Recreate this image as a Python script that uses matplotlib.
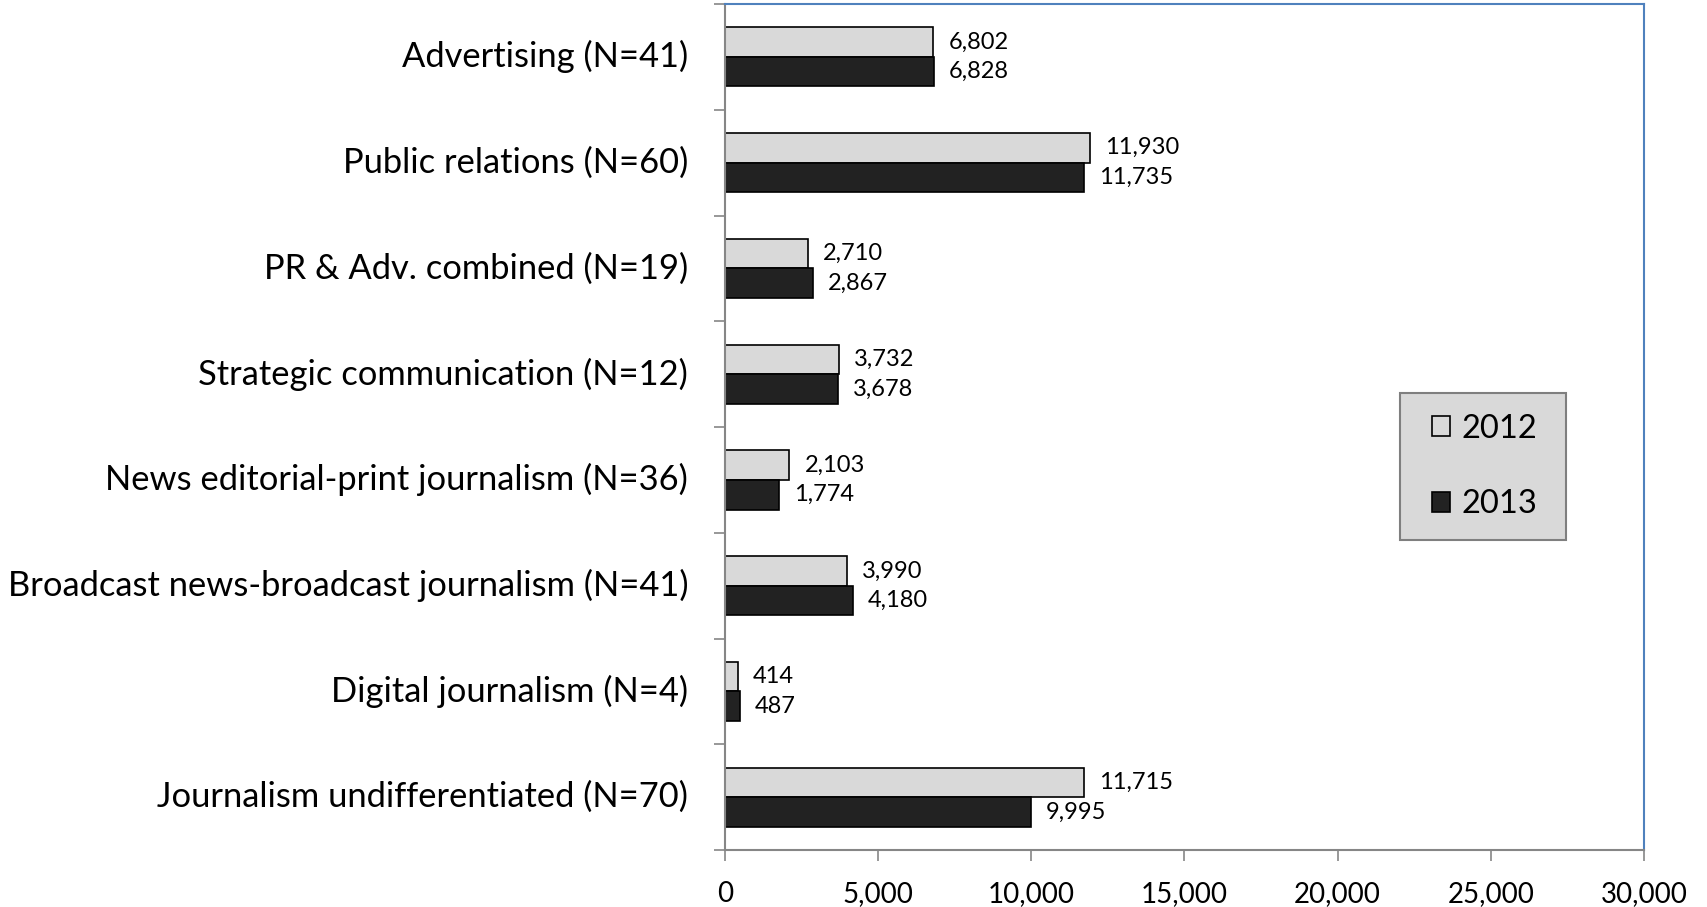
import matplotlib
matplotlib.use("Agg")
import matplotlib.pyplot as plt
from matplotlib.patches import Rectangle
import numpy as np

plt.rcParams['font.family'] = ['Lato', 'DejaVu Sans']

categories = [
    'Advertising (N=41)',
    'Public relations (N=60)',
    'PR & Adv. combined (N=19)',
    'Strategic communication (N=12)',
    'News editorial-print journalism (N=36)',
    'Broadcast news-broadcast journalism (N=41)',
    'Digital journalism (N=4)',
    'Journalism undifferentiated (N=70)',
]
values_2012 = [6802, 11930, 2710, 3732, 2103, 3990, 414, 11715]
values_2013 = [6828, 11735, 2867, 3678, 1774, 4180, 487, 9995]
series_names = ['2012', '2013']
x_ticks = [0, 5000, 10000, 15000, 20000, 25000, 30000]

fig = plt.figure(figsize=(17.07, 9.07), dpi=100)
ax = fig.add_axes([0.4247, 0.0628, 0.5384, 0.9328])

y = np.arange(len(categories))
h = 0.28
b1 = ax.barh(y - h / 2, values_2012, height=h, color='#d9d9d9',
             edgecolor='black', linewidth=1.2, label=series_names[0])
b2 = ax.barh(y + h / 2, values_2013, height=h, color='#222222',
             edgecolor='black', linewidth=1.2, label=series_names[1])

for bars, vals in ((b1, values_2012), (b2, values_2013)):
    for bar, v in zip(bars, vals):
        ax.annotate(f'{v:,}', (v, bar.get_y() + bar.get_height() / 2),
                    xytext=(15, 0), textcoords='offset pixels',
                    va='center', ha='left', fontsize=17)

ax.set_xlim(0, 30000)
ax.set_ylim(len(categories) - 0.5, -0.5)
ax.set_xticks(x_ticks)
ax.set_xticklabels([f'{t:,}' for t in x_ticks], fontsize=20)
ax.tick_params(axis='x', direction='out', length=8, width=1.2,
               color='#868686', pad=14)

# category names on the left, boundary ticks between groups
ax.set_yticks(np.arange(len(categories) + 1) - 0.5)
ax.set_yticklabels([])
ax.tick_params(axis='y', direction='out', length=8, width=1.2, color='#868686')
for yi, name in zip(y, categories):
    ax.text(-0.04, yi, name, transform=ax.get_yaxis_transform(),
            ha='right', va='center', fontsize=24.8)

for side in ('left', 'bottom'):
    ax.spines[side].set_color('#868686')
    ax.spines[side].set_linewidth(1.5)
for side in ('top', 'right'):
    ax.spines[side].set_color('#4f81bd')
    ax.spines[side].set_linewidth(1.5)

# grey legend box, drawn separately so its padding can be set freely
box = (0.7345, 0.3664, 0.1806, 0.1738)
ax.add_patch(Rectangle(box[:2], box[2], box[3], transform=ax.transAxes,
                       facecolor='#d9d9d9', edgecolor='#7f7f7f',
                       linewidth=1.5, zorder=4))
leg = ax.legend(loc='center', bbox_to_anchor=(box[0] + box[2] / 2 + 0.002,
                                              box[1] + box[3] / 2),
                fontsize=23.5, frameon=False, borderaxespad=0,
                handlelength=0.57, handleheight=0.57, handletextpad=0.35,
                labelspacing=1.4, borderpad=0)
leg.set_zorder(5)

fig.savefig('out.png', dpi=100, facecolor='white')
